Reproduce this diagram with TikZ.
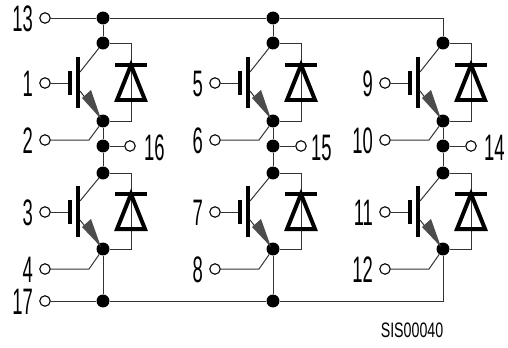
\documentclass[tikz,border=0pt]{standalone}
\usepackage{fontspec}
\setmainfont{Liberation Sans}
\tikzset{
  wire/.style={line width=1pt,draw=black!80},
  junction/.style={circle,fill=black,inner sep=0pt,minimum width=11pt,minimum height=13pt},
  terminal/.style={circle,draw=black,line width=1.1pt,fill=white,inner sep=0pt,minimum size=10.5pt},
  lbl/.style={inner sep=0pt,font=\fontsize{37}{37}\selectfont,xscale=0.5},
  thickbar/.style={line width=5pt,draw=black},
  diodeline/.style={line width=4pt,draw=black,line join=miter},
}
\newcommand{\igbtcell}[9]{%
 % #1 prefix #2 x #3 collector y #4 emitter y #5 gate y #6 emitter-terminal y #7 gate label #8 emitter label #9 diode top y
 \node[junction] (#1c) at (#2,#3) {};
 \node[junction] (#1e) at (#2,#4) {};
 \node[terminal] (#1g) at (#2-58,#5) {};
 \node[terminal] (#1t) at (#2-58,#6) {};
 \node[lbl,anchor=east] (#1gl) at (#2-70,#5+1) {#7};
 \node[lbl,anchor=east] (#1tl) at (#2-70,#6+1) {#8};
 \coordinate (#1gb) at (#2-33,#5);
 \coordinate (#1cb) at (#2-23,#5-11);
 \coordinate (#1eb) at (#2-23,#5+8);
 \coordinate (#1k) at (#2-14,#6);
 \coordinate (#1d1) at (#2+28,#3);
 \coordinate (#1d2) at (#2+28,#4);
 \draw[wire] (#1g) -- (#1gb);
 \draw[thickbar] (#2-33,#5-12) -- (#2-33,#5+12);
 \draw[thickbar] (#2-25,#5-26) -- (#2-25,#5+25);
 \draw[wire] (#1cb) -- (#1c);
 \draw[wire] (#1eb) -- (#1e);
 \fill[black!70] (#2-2,#4-2) -- (#2-21,#5+15) -- (#2-12,#5+7) -- cycle;
 \draw[wire] (#1t) -- (#1k) -- (#1e);
 \draw[wire] (#1c) -- (#1d1) -- (#1d2) -- (#1e);
 \draw[line width=5pt] (#2+12,#9) -- (#2+44,#9);
 \draw[diodeline] (#2+28,#9) -- (#2+42,#9+35) -- (#2+14,#9+35) -- cycle;
}
\begin{document}
\begin{tikzpicture}[x=1bp,y=-1bp]
\useasboundingbox (0,0) rectangle (508,347);
\fill[white] (0,0) rectangle (508,347);
\igbtcell{a}{103}{43}{121}{83}{140}{1}{2}{65}
\igbtcell{b}{103}{173}{249}{212}{269}{3}{4}{194}
\igbtcell{c}{273}{43}{121}{83}{140}{5}{6}{65}
\igbtcell{d}{273}{173}{249}{212}{269}{7}{8}{194}
\igbtcell{e}{443}{43}{121}{83}{140}{9}{10}{65}
\igbtcell{f}{443}{173}{249}{212}{269}{11}{12}{194}
% buses
\node[terminal] (t13) at (45,18) {};
\node[terminal] (t17) at (45,301) {};
\node[lbl,anchor=east] (l13) at (33,19) {13};
\node[lbl,anchor=east] (l17) at (33,302) {17};
\node[junction] (j1) at (103,18) {};
\node[junction] (j2) at (273,18) {};
\coordinate (j3) at (443,18);
\node[junction] (k1) at (103,301) {};
\node[junction] (k2) at (273,301) {};
\coordinate (k3) at (443,301);
\draw[wire] (t13) -- (j1) -- (j2) -- (j3) -- (ec);
\draw[wire] (t17) -- (k1) -- (k2) -- (k3) -- (fe);
\draw[wire] (j1) -- (ac);
\draw[wire] (j2) -- (cc);
\draw[wire] (k1) -- (be);
\draw[wire] (k2) -- (de);
% mid-points
\node[junction] (m1) at (103,146) {};
\node[junction] (m2) at (273,146) {};
\node[junction] (m3) at (443,146) {};
\node[terminal] (t16) at (130,146) {};
\node[terminal] (t15) at (301,146) {};
\node[terminal] (t14) at (471,146) {};
\node[lbl,anchor=west] (l16) at (144,148) {16};
\node[lbl,anchor=west] (l15) at (311,148) {15};
\node[lbl,anchor=west] (l14) at (484,148) {14};
\draw[wire] (ae) -- (m1) -- (bc);
\draw[wire] (ce) -- (m2) -- (dc);
\draw[wire] (ee) -- (m3) -- (fc);
\draw[wire] (m1) -- (t16);
\draw[wire] (m2) -- (t15);
\draw[wire] (m3) -- (t14);
\node[inner sep=0pt,font=\fontsize{21}{21}\selectfont,xscale=0.68] (cap) at (412,330) {SIS00040};
\end{tikzpicture}
\end{document}
